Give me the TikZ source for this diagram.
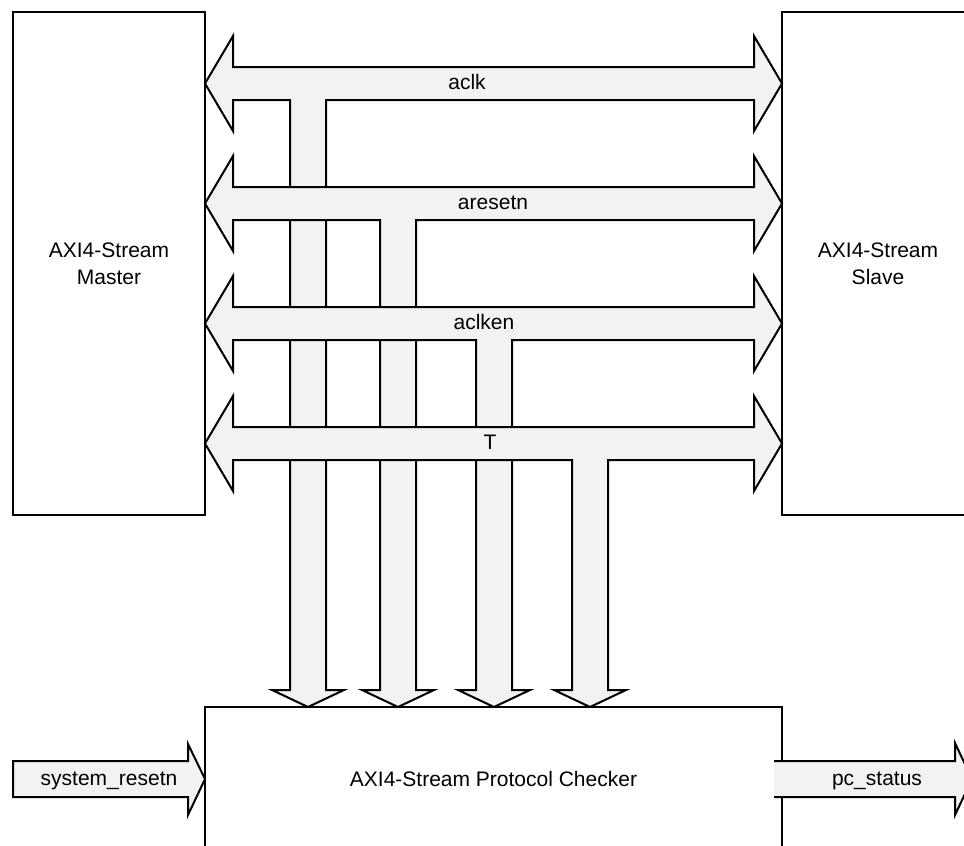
\documentclass[tikz,border=0pt]{standalone}
\usepackage{fontspec}
\setmainfont{Liberation Sans}
\definecolor{busfill}{RGB}{242,242,242}
\tikzset{
  blockbox/.style={draw,line width=2pt,fill=white,align=center,inner sep=0pt},
  busarrow/.style={draw,line width=2pt,fill=busfill,line join=miter},
  buslabel/.style={anchor=base,inner sep=0pt},
}
\begin{document}
\begin{tikzpicture}[x=1pt,y=-1pt,font=\fontsize{21}{27}\selectfont]
\path[use as bounding box] (0,0) rectangle (964,846);
\clip (0,0) rectangle (964,846);
% blocks
\node[blockbox,minimum width=192pt,minimum height=503pt] (master) at (109,263.5) {AXI4-Stream\\Master};
\node[blockbox,minimum width=192pt,minimum height=503pt] (slave) at (878,263.5) {AXI4-Stream\\Slave};
\node[blockbox,minimum width=577pt,minimum height=144pt] (checker) at (493.5,779) {AXI4-Stream Protocol Checker};
% buses
\draw[busarrow] (205,83.5)--(233,36)--(233,67)--(754,67)--(754,36)--(782,83.5)--(754,131)--(754,100)--(326,100)--(326,690)--(344,690)--(308,707)--(272,690)--(290,690)--(290,100)--(233,100)--(233,131)--cycle;
\node[buslabel] (aclk) at (467,89.5) {aclk};
\draw[busarrow] (205,203.5)--(233,156)--(233,187)--(754,187)--(754,156)--(782,203.5)--(754,251)--(754,220)--(416,220)--(416,690)--(434,690)--(398,707)--(362,690)--(380,690)--(380,220)--(233,220)--(233,251)--cycle;
\node[buslabel] (aresetn) at (493,209.5) {aresetn};
\draw[busarrow] (205,323.5)--(233,276)--(233,307)--(754,307)--(754,276)--(782,323.5)--(754,371)--(754,340)--(512,340)--(512,690)--(530,690)--(494,707)--(458,690)--(476,690)--(476,340)--(233,340)--(233,371)--cycle;
\node[buslabel] (aclken) at (484,329.5) {aclken};
\draw[busarrow] (205,443.5)--(233,396)--(233,427)--(754,427)--(754,396)--(782,443.5)--(754,491)--(754,460)--(608,460)--(608,690)--(626,690)--(590,707)--(554,690)--(572,690)--(572,460)--(233,460)--(233,491)--cycle;
\node[buslabel] (tbus) at (490,449.5) {T};
% side signals
\draw[busarrow] (13,761)--(188,761)--(188,744)--(205,779)--(188,815)--(188,797)--(13,797)--cycle;
\node[buslabel] (rst) at (109,785) {system\_resetn};
\fill[busfill] (774,761)--(955,761)--(955,743)--(972,779)--(955,815)--(955,797)--(774,797)--cycle;
\draw[line width=2pt,line join=miter] (774,761)--(955,761)--(955,743)--(972,779)--(955,815)--(955,797)--(774,797);
\node[buslabel] (status) at (877,785) {pc\_status};
\end{tikzpicture}
\end{document}
